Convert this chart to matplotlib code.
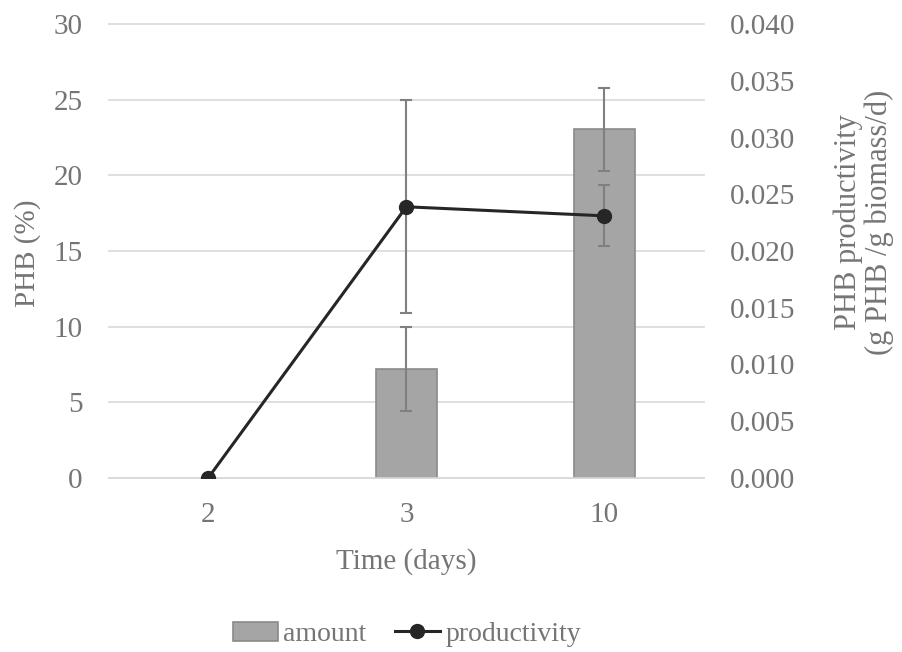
import matplotlib.pyplot as plt
import numpy as np

days = ["2", "3", "10"]
amount = [0.0, 7.2, 23.05]
amount_err = [0.0, 2.8, 2.75]
productivity = [0.0, 0.0239, 0.0231]
productivity_err = [0.0, 0.0094, 0.0027]

TEXT = "#757575"
GRID = "#d9d9d9"
FS = 21

plt.rcParams["font.family"] = ["Liberation Serif", "DejaVu Serif"]
plt.rcParams["font.size"] = FS

fig = plt.figure(figsize=(9.02, 6.52), dpi=100)
ax = fig.add_axes([0.121, 0.267, 0.659, 0.696])
ax2 = ax.twinx()

x = np.arange(len(days))

bars = ax.bar(x, amount, width=0.31, color="#a5a5a5", edgecolor="#8a8a8a",
              linewidth=1.2, zorder=2, label="amount")
# an empty bar leaves no outline in the original
for b, v in zip(bars, amount):
    if v == 0:
        b.set_linewidth(0)
ax.errorbar(x[1:], amount[1:], yerr=amount_err[1:], fmt="none",
            ecolor="#808080", elinewidth=1.5, capsize=4.5, capthick=1.5, zorder=3)

line, = ax2.plot(x, productivity, color="#262626", linewidth=2.2, marker="o",
                 markersize=10, zorder=4, label="productivity")
ax2.errorbar(x[1:], productivity[1:], yerr=productivity_err[1:], fmt="none",
             ecolor="#808080", elinewidth=1.5, capsize=4.5, capthick=1.5, zorder=3)

ax.set_xlim(-0.5, 2.5)
ax.set_ylim(0, 30)
ax2.set_ylim(0, 0.040)
ax.set_yticks(np.arange(0, 31, 5))
ax2.set_yticks(np.arange(0, 0.0401, 0.005))
ax2.set_yticklabels(["{:.3f}".format(v) for v in np.arange(0, 0.0401, 0.005)])
ax.set_xticks(x)
ax.set_xticklabels(days)

ax.yaxis.grid(True, color=GRID, linewidth=1.2, zorder=0)
for gl in ax.get_ygridlines():
    gl.set_clip_on(False)
ax.set_axisbelow(True)
for a in (ax, ax2):
    for s in a.spines.values():
        s.set_visible(False)
    a.tick_params(length=0, colors=TEXT, labelsize=FS)
ax.spines["bottom"].set_visible(True)
ax.spines["bottom"].set_color(GRID)
ax.spines["bottom"].set_linewidth(1.2)
ax.tick_params(axis="y", pad=19)
ax2.tick_params(axis="y", pad=19)
ax.tick_params(axis="x", pad=17)

ax.set_xlabel("Time (days)", color=TEXT, fontsize=FS, labelpad=15)

fig.text(28 / 902, 1 - 253 / 652, "PHB (%)", color=TEXT, fontsize=FS,
         rotation=90, ha="center", va="center")
fig.text(864 / 902, 1 - 222 / 652, "PHB productivity\n(g PHB /g biomass/d)",
         color=TEXT, fontsize=22, rotation=90, ha="center", va="center",
         multialignment="center", linespacing=1.05)

fig.legend([bars.patches[1], line], ["amount", "productivity"], loc="center",
           bbox_to_anchor=(0.451, 0.027), ncol=2, frameon=False,
           fontsize=20, handlelength=1.65, handletextpad=0.18,
           columnspacing=1.0, labelcolor=TEXT)

fig.savefig("out.png", dpi=100)
